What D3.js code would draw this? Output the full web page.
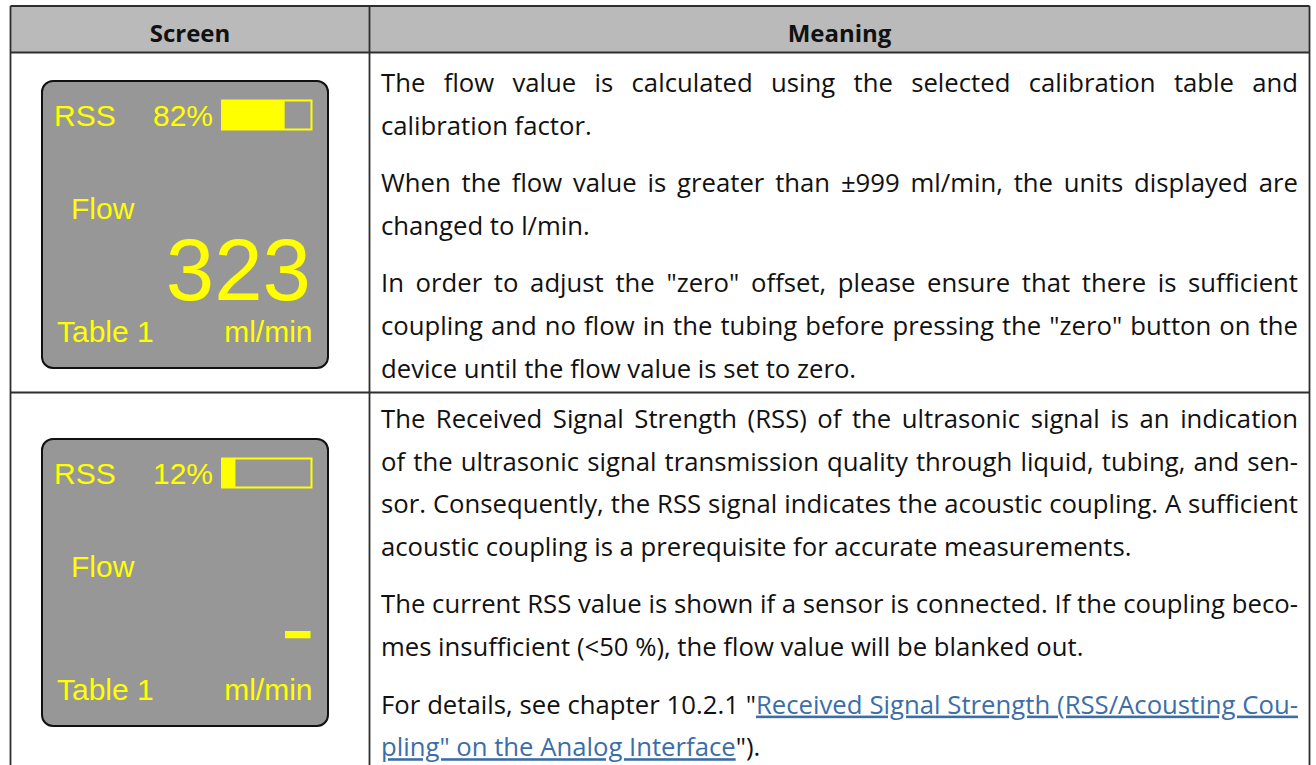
<!DOCTYPE html>
<html><head><meta charset="utf-8">
<script src="https://cdn.jsdelivr.net/npm/d3@7"></script>
<style>html,body{margin:0;padding:0;background:#fff;}svg{display:block;}</style>
</head><body>
<script>
// ---- data ----
const headers = ["Screen", "Meaning"];
const rssLabel = ["RSS", "RSS"];
const rssPercent = ["82%", "12%"];
const rssBarLevel = [70, 15];           // fill of the RSS bar (%)
const flowLabel = ["Flow", "Flow"];
const flowValue = ["323", null];        // null = blanked out (dash)
const tableLabel = ["Table 1", "Table 1"];
const unitLabel = ["ml/min", "ml/min"];

const meaningRow1 = [
  [{t:"The flow value is calculated using the selected calibration table and", j:true},
   {t:"calibration factor."}],
  [{t:"When the flow value is greater than \u00b1999 ml/min, the units displayed are", j:true},
   {t:"changed to l/min."}],
  [{t:"In order to adjust the \"zero\" offset, please ensure that there is sufficient", j:true},
   {t:"coupling and no flow in the tubing before pressing the \"zero\" button on the", j:true},
   {t:"device until the flow value is set to zero."}]
];
const meaningRow2 = [
  [{t:"The Received Signal Strength (RSS) of the ultrasonic signal is an indication", j:true},
   {t:"of the ultrasonic signal transmission quality through liquid, tubing, and sen-", j:true},
   {t:"sor. Consequently, the RSS signal indicates the acoustic coupling. A sufficient", j:true},
   {t:"acoustic coupling is a prerequisite for accurate measurements."}],
  [{t:"The current RSS value is shown if a sensor is connected. If the coupling beco-", j:true},
   {t:"mes insufficient (<50 %), the flow value will be blanked out."}],
  [{parts:[{t:"For details, see chapter 10.2.1 \""},{t:"Received Signal Strength (RSS/Acousting Cou-", link:true}], j:true},
   {parts:[{t:"pling\" on the Analog Interface", link:true},{t:"\")."}]}]
];
const meaningRows = [meaningRow1, meaningRow2];

// ---- layout ----
const W = 1316, H = 765;
const svg = d3.select("body").append("svg").attr("width", W).attr("height", H);
svg.append("rect").attr("width", W).attr("height", H).attr("fill", "#fff");

const colX = [10.5, 369.5, 1309.5];
const rowY = [6, 52.5, 392.5, 800];

// header background
svg.append("rect").attr("x", colX[0]).attr("y", rowY[0]).attr("width", colX[2]-colX[0]).attr("height", rowY[1]-rowY[0]).attr("fill", "#bababa");

// header text
svg.selectAll("text.hdr").data(headers).enter().append("text")
  .attr("class","hdr")
  .attr("x", (d,i) => (colX[i]+colX[i+1])/2)
  .attr("y", 41.5)
  .attr("text-anchor","middle")
  .attr("font-family","'Open Sans', sans-serif")
  .attr("font-weight","bold")
  .attr("font-size", 24)
  .attr("fill","#111")
  .text(d => d);

// screens
const screenOrigins = [[42, 81], [42, 439]];
const scrW = 286, scrH = 287;
const barScale = d3.scaleLinear().domain([0,100]).range([180, 269.5]);
const scrFont = "'Liberation Sans', Arial, sans-serif";
const yellow = "#ffff00";

screenOrigins.forEach((o, i) => {
  const g = svg.append("g").attr("transform", `translate(${o[0]},${o[1]})`);
  g.append("rect").attr("x",0).attr("y",0).attr("width",scrW).attr("height",scrH)
    .attr("rx",11).attr("ry",11).attr("fill","#979797").attr("stroke","#111").attr("stroke-width",2);
  g.append("text").attr("x",12).attr("y",44.7).attr("font-family",scrFont).attr("font-size",30).attr("fill",yellow).text(rssLabel[i]);
  g.append("text").attr("x",171).attr("y",44.7).attr("text-anchor","end").attr("font-family",scrFont).attr("font-size",30).attr("fill",yellow).text(rssPercent[i]);
  // RSS bar
  g.append("rect").attr("x",barScale(0)).attr("y",19.5).attr("width",barScale(100)-barScale(0)).attr("height",29)
    .attr("fill","none").attr("stroke",yellow).attr("stroke-width",2);
  g.append("rect").attr("x",barScale(0)).attr("y",19.5).attr("width",barScale(rssBarLevel[i])-barScale(0)).attr("height",29)
    .attr("fill",yellow);
  g.append("text").attr("x",29).attr("y",138).attr("font-family",scrFont).attr("font-size",30).attr("fill",yellow).text(flowLabel[i]);
  if (flowValue[i] !== null) {
    g.append("text").attr("x",269).attr("y",219).attr("text-anchor","end").attr("font-family",scrFont).attr("font-size",87).attr("fill",yellow).text(flowValue[i]);
  } else {
    g.append("rect").attr("x",243).attr("y",192).attr("width",25.5).attr("height",7.3).attr("fill",yellow);
  }
  g.append("text").attr("x",15).attr("y",260.5).attr("font-family",scrFont).attr("font-size",30).attr("fill",yellow).text(tableLabel[i]);
  g.append("text").attr("x",270.5).attr("y",260.5).attr("text-anchor","end").attr("font-family",scrFont).attr("font-size",30).attr("fill",yellow).text(unitLabel[i]);
});

// meaning text
const textX = 381, textR = 1298;
const lineH = 42.6, paraGap = 15;
const rowFirstBaseline = [92, 428];
const bodyFont = "'Open Sans', sans-serif";
const bodySize = 25.7;
const linkColor = "#3b6ea8";

meaningRows.forEach((paras, r) => {
  let y = rowFirstBaseline[r];
  paras.forEach((lines, pi) => {
    if (pi > 0) y += paraGap;
    lines.forEach(line => {
      const t = svg.append("text").attr("x", textX).attr("y", y)
        .attr("font-family", bodyFont).attr("font-size", bodySize).attr("fill", "#111")
        .attr("xml:space","preserve");
      const parts = line.parts || [{t: line.t}];
      parts.forEach(p => {
        const ts = t.append("tspan").text(p.t);
        if (p.link) ts.attr("fill", linkColor).attr("text-decoration","underline");
      });
      if (line.j) {
        const full = parts.map(p => p.t).join("");
        const nSpaces = (full.match(/ /g) || []).length;
        const len = t.node().getComputedTextLength();
        if (nSpaces > 0) t.attr("word-spacing", (textR - textX - len) / nSpaces);
      }
      y += lineH;
    });
  });
});

// grid lines
const lineColor = "#2e2e2e";
[rowY[0], rowY[1], rowY[2]].forEach(yy => {
  svg.append("line").attr("x1", colX[0]).attr("x2", colX[2]).attr("y1", yy).attr("y2", yy)
    .attr("stroke", lineColor).attr("stroke-width", 1.8);
});
colX.forEach(xx => {
  svg.append("line").attr("x1", xx).attr("x2", xx).attr("y1", rowY[0]).attr("y2", H+5)
    .attr("stroke", lineColor).attr("stroke-width", 1.8);
});
</script>
</body></html>
